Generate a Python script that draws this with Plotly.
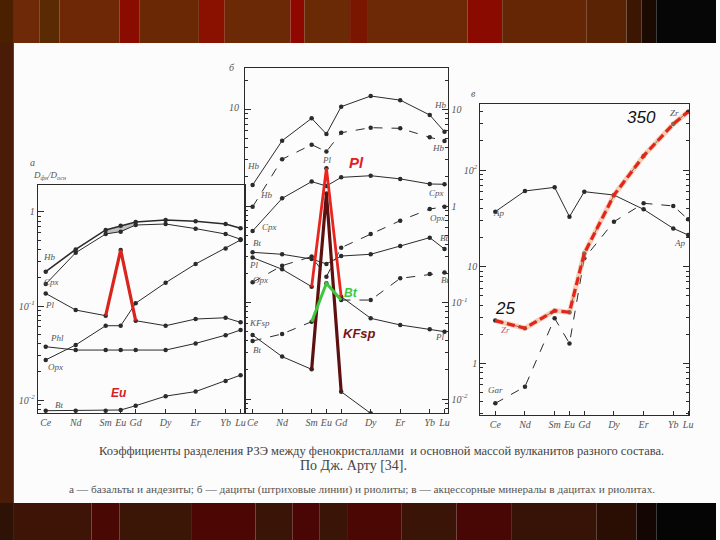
import plotly.graph_objects as go

W, H = 720, 540
ELEMENTS = ["Ce", "Nd", "Sm", "Eu", "Gd", "Dy", "Er", "Yb", "Lu"]
Z = [58, 60, 62, 63, 64, 66, 68, 70, 71]

# ---- panel а: basalts & andesites ----
a_hb = [0.232, 0.40, 0.644, 0.715, 0.783, 0.822, 0.796, 0.745, 0.67]
a_cpx = [0.171, 0.369, 0.583, 0.618, 0.727, 0.745, 0.665, 0.583, 0.512]
a_opx = [0.0267, 0.0385, 0.0617, 0.0617, 0.107, 0.177, 0.280, 0.41, 0.504]
a_pl = [0.136, 0.0906, 0.0789, 0.394, 0.0698, 0.0617, 0.0727, 0.075, 0.067]
a_phl = [0.0369, 0.034, 0.034, 0.034, 0.034, 0.034, 0.040, 0.049, 0.0556]
a_bt = [0.0077, 0.0077, 0.0077, 0.00783, 0.0087, 0.011, 0.0123, 0.0159, 0.0184]

# ---- panel б: dacites (dashed) & rhyolites ----
b_hb1 = [1.65, 4.75, 8.1, 5.57, 10.7, 13.8, 12.5, 8.77, 5.89]
b_hb2 = [0.98, 3.05, 4.32, 3.66, 5.75, 6.48, 6.38, 5.15, 4.72]
b_cpx = [0.551, 1.20, 1.79, 1.61, 1.98, 2.06, 1.91, 1.69, 1.68]
b_opx = [0.162, 0.241, 0.299, 0.185, 0.370, 0.513, 0.705, 0.931, 0.98]
b_bt1 = [0.331, 0.316, 0.282, 0.251, 0.303, 0.316, 0.385, 0.47, 0.358]
b_pl = [0.292, 0.221, 0.146, 2.46, 0.115, 0.0686, 0.0585, 0.0527, 0.0499]
b_bt2 = [0.0399, 0.0472, 0.0633, 0.158, 0.106, 0.106, 0.178, 0.197, 0.204]
b_kfsp = [0.046, 0.0275, 0.0203, 1.35, 0.0119, 0.0071, None, None, None]

# ---- panel в: accessory minerals ----
c_zr = [2.77, 2.31, 3.51, 3.38, 13.7, 55, 140, 299, 401]
c_gar = [0.386, 0.574, 2.93, 1.61, 12.2, 29.2, 45.3, 42.5, 30.9]
c_ap = [37.1, 60.7, 66.2, 32.9, 59.7, 55.1, 39.2, 24.9, 21.3]

SEG = slice(2, 5)  # Sm-Eu-Gd

INK = "#2b2b2b"
LBL = "#555555"


def px(x):
    return x / W


def py(y):
    return 1 - y / H


fig = go.Figure()


def line(xa, ya, y, dash="solid", width=1.0, color=INK, marker=True):
    fig.add_trace(go.Scatter(
        x=Z[:len(y)], y=y, xaxis=xa, yaxis=ya, mode="lines+markers" if marker else "lines",
        line=dict(color=color, width=width, dash=dash),
        marker=dict(size=4.5, color=color), connectgaps=False,
        hoverinfo="skip", showlegend=False))


def seg(xa, ya, y, color, width=3.0, dash="solid"):
    fig.add_trace(go.Scatter(
        x=Z[SEG], y=y[SEG], xaxis=xa, yaxis=ya, mode="lines",
        line=dict(color=color, width=width, dash=dash),
        hoverinfo="skip", showlegend=False))


# panel a shading between Hb and Cpx (Sm..Gd)
fig.add_trace(go.Scatter(
    x=Z[SEG] + Z[SEG][::-1], y=a_hb[SEG] + a_cpx[SEG][::-1], xaxis="x", yaxis="y",
    mode="lines", fill="toself", fillcolor="rgba(150,150,150,0.6)",
    line=dict(width=0), hoverinfo="skip", showlegend=False))
line("x", "y", a_hb, width=1.6)
line("x", "y", a_cpx)
line("x", "y", a_opx)
line("x", "y", a_pl)
line("x", "y", a_phl)
line("x", "y", a_bt)
seg("x", "y", a_pl, "#d8261e", 3.2)

# panel b
line("x2", "y2", b_hb1)
line("x2", "y2", b_hb2, dash="dash")
line("x2", "y2", b_cpx)
line("x2", "y2", b_opx, dash="dash")
line("x2", "y2", b_bt1)
line("x2", "y2", b_pl)
line("x2", "y2", b_bt2, dash="dash")
line("x2", "y2", b_kfsp)
seg("x2", "y2", b_kfsp, "#5c1010", 3.2)
seg("x2", "y2", b_pl, "#e8261e", 2.8)
seg("x2", "y2", b_bt2, "#3cc83c", 3.0)

# panel c
line("x3", "y3", c_ap)
line("x3", "y3", c_gar, dash="dash")
line("x3", "y3", c_zr, dash="dash")
fig.add_trace(go.Scatter(
    x=Z, y=c_zr, xaxis="x3", yaxis="y3", mode="lines",
    line=dict(color="#f0a070", width=5), opacity=0.5, hoverinfo="skip", showlegend=False))
fig.add_trace(go.Scatter(
    x=Z, y=c_zr, xaxis="x3", yaxis="y3", mode="lines",
    line=dict(color="#e3261c", width=3.2, dash="8px,4px"), hoverinfo="skip", showlegend=False))

# ---- axes ----
tickfont = dict(family="Liberation Serif", size=10, color=LBL, style="italic")


def xax(d0, d1, r, anchor):
    return dict(domain=[px(d0), px(d1)], range=r, anchor=anchor, tickvals=Z, ticktext=ELEMENTS,
                ticks="inside", ticklen=4, tickcolor=INK, showline=True, linecolor=INK, linewidth=1.2,
                mirror=True, showgrid=False, zeroline=False, tickfont=tickfont, fixedrange=True)


def minor_vals(lo, hi):
    out = []
    for e in range(lo, hi + 1):
        for m in range(2, 10):
            out.append(m * 10.0 ** e)
    return out


def yax(top, bot, r, anchor, tv, tt, side="left", mirror=True, lo=-3, hi=3):
    return dict(domain=[py(bot), py(top)], type="log", range=r, anchor=anchor, side=side,
                tickvals=tv, ticktext=tt, ticks="inside", ticklen=6, tickcolor=INK,
                minor=dict(tickvals=minor_vals(lo, hi), ticks="inside", ticklen=3, tickcolor=INK),
                showline=True, linecolor=INK, linewidth=1.2, mirror=mirror, showgrid=False,
                zeroline=False, tickfont=tickfont, fixedrange=True)


layout_axes = dict(
    xaxis=xax(38, 246, [57.47, 71.27], "y"),
    yaxis=yax(185, 413, [-2.138, 0.287], "x", [0.01, 0.1, 1],
              ["10<sup>-2</sup>", "10<sup>-1</sup>", "1"], mirror=True),
    xaxis2=xax(246, 451, [57.46, 71.27], "y2"),
    yaxis2=yax(68, 413, [-2.145, 1.43], "x2", [0.01, 0.1, 1, 10],
               ["10<sup>-2</sup>", "10<sup>-1</sup>", "1", "10"], side="right", mirror="ticks"),
    xaxis3=xax(483, 693, [56.99, 71.07], "y3"),
    yaxis3=yax(104, 415, [-0.534, 2.683], "x3", [1, 10, 100],
               ["1", "10", "10<sup>2</sup>"], mirror="ticks"),
)

# ---- background (slide frame) ----
shapes = []


def rect(x0, y0, x1, y1, color):
    shapes.append(dict(type="rect", xref="paper", yref="paper", x0=px(x0), x1=px(x1),
                       y0=py(y1), y1=py(y0), fillcolor=color, line=dict(width=0), layer="below"))


top_stripes = [(0, 14, "#4a2000"), (14, 40, "#6e2a08"), (40, 60, "#5a2a05"), (60, 120, "#6f2806"),
               (120, 140, "#8a0c00"), (140, 200, "#6a2804"), (200, 226, "#8a1000"), (226, 292, "#6b2a05"),
               (292, 306, "#8e0800"), (306, 352, "#6a2a06"), (352, 370, "#7a1500"), (370, 470, "#6d2806"),
               (470, 505, "#8a0a00"), (505, 590, "#652606"), (590, 630, "#5a2404"), (630, 645, "#3a1603"),
               (645, 660, "#1a0a02"), (660, 720, "#060606")]
for x0, x1, c in top_stripes:
    rect(x0, 0, x1, 43, c)
bot_stripes = [(0, 14, "#2e1205"), (14, 92, "#3d1406"), (92, 120, "#4a0804"), (120, 193, "#3b1506"),
               (193, 257, "#4c0603"), (257, 294, "#3a1406"), (294, 321, "#4a0604"), (321, 349, "#3a1507"),
               (349, 404, "#4a0704"), (404, 459, "#3a1406"), (459, 514, "#480604"), (514, 600, "#361306"),
               (600, 640, "#2a0e04"), (640, 660, "#140703"), (660, 720, "#050505")]
for x0, x1, c in bot_stripes:
    rect(x0, 503, x1, 540, c)
rect(0, 43, 14, 503, "#4a1c08")
rect(14, 43, 720, 503, "#fcfcfc")

# ---- text ----
ann = []


def text(x, y, s, size=9, color=LBL, family="Liberation Serif", style="italic", weight="normal",
         xanchor="center"):
    ann.append(dict(xref="paper", yref="paper", x=px(x), y=py(y), text=s, showarrow=False,
                    xanchor=xanchor, yanchor="middle",
                    font=dict(family=family, size=size, color=color, style=style, weight=weight)))


# panel headers
text(33, 162, "а", 10)
text(50, 175, "D<sub>фн</sub>/D<sub>осн</sub>", 9)
text(233, 68, "б", 10)
text(235, 107, "10", 10)
text(476, 93, "в", 10)

# panel a labels
for x, y, s in [(50, 257, "Hb"), (52, 282, "Cpx"), (50, 305, "Pl"), (57, 338, "Phl"),
                (56, 367, "Opx"), (59, 405, "Bt")]:
    text(x, y, s)
# panel b labels
for x, y, s in [(255, 166, "Hb"), (268, 195, "Hb"), (271, 227, "Cpx"), (258, 243, "Bt"),
                (255, 265, "Pl"), (262, 280, "Opx"), (261, 323, "KFsp"), (258, 350, "Bt"),
                (443, 105, "Hb"), (441, 148, "Hb"), (439, 193, "Cpx"), (440, 218, "Opx"),
                (446, 238, "Bt"), (447, 280, "Bt"), (442, 337, "Pl"), (328, 160, "Pl")]:
    text(x, y, s)
# panel c labels
for x, y, s in [(501, 213, "Ap"), (683, 243, "Ap"), (498, 390, "Gar"), (678, 113, "Zr")]:
    text(x, y, s)
text(508, 330, "Zr", 9, color="#c06080")

# red / coloured notes
text(358, 162, "Pl", 15, color="#e0201e", family="Liberation Sans", weight="bold")
text(353, 293, "Bt", 12, color="#3cc83c", family="Liberation Sans", weight="bold")
text(362, 333, "KFsp", 13, color="#7a1414", family="Liberation Sans", weight="bold")
text(120, 393, "Eu", 12, color="#d42020", family="Liberation Sans", weight="bold")
text(645, 117, "350", 17, color="#111111", family="Liberation Sans")
text(508, 308, "25", 17, color="#111111", family="Liberation Sans")

# caption
text(384, 451, "Коэффициенты разделения РЗЭ между фенокристаллами  и основной массой вулканитов разного состава.",
     12.5, color="#444444", style="normal")
text(355, 465, "По Дж. Арту [34].", 14, color="#444444", style="normal")
text(364, 489, "а — базальты и андезиты; б — дациты (штриховые линии) и риолиты; в — акцессорные минералы в дацитах и риолитах.",
     11.3, color="#555555", style="normal")

fig.update_layout(
    width=W, height=H, margin=dict(l=0, r=0, t=0, b=0),
    paper_bgcolor="#fcfcfc", plot_bgcolor="rgba(0,0,0,0)",
    shapes=shapes, annotations=ann, showlegend=False, **layout_axes)

fig.write_html("out.html", config={"displayModeBar": False},
               post_script="document.body.style.margin='0';document.body.style.padding='0';")
